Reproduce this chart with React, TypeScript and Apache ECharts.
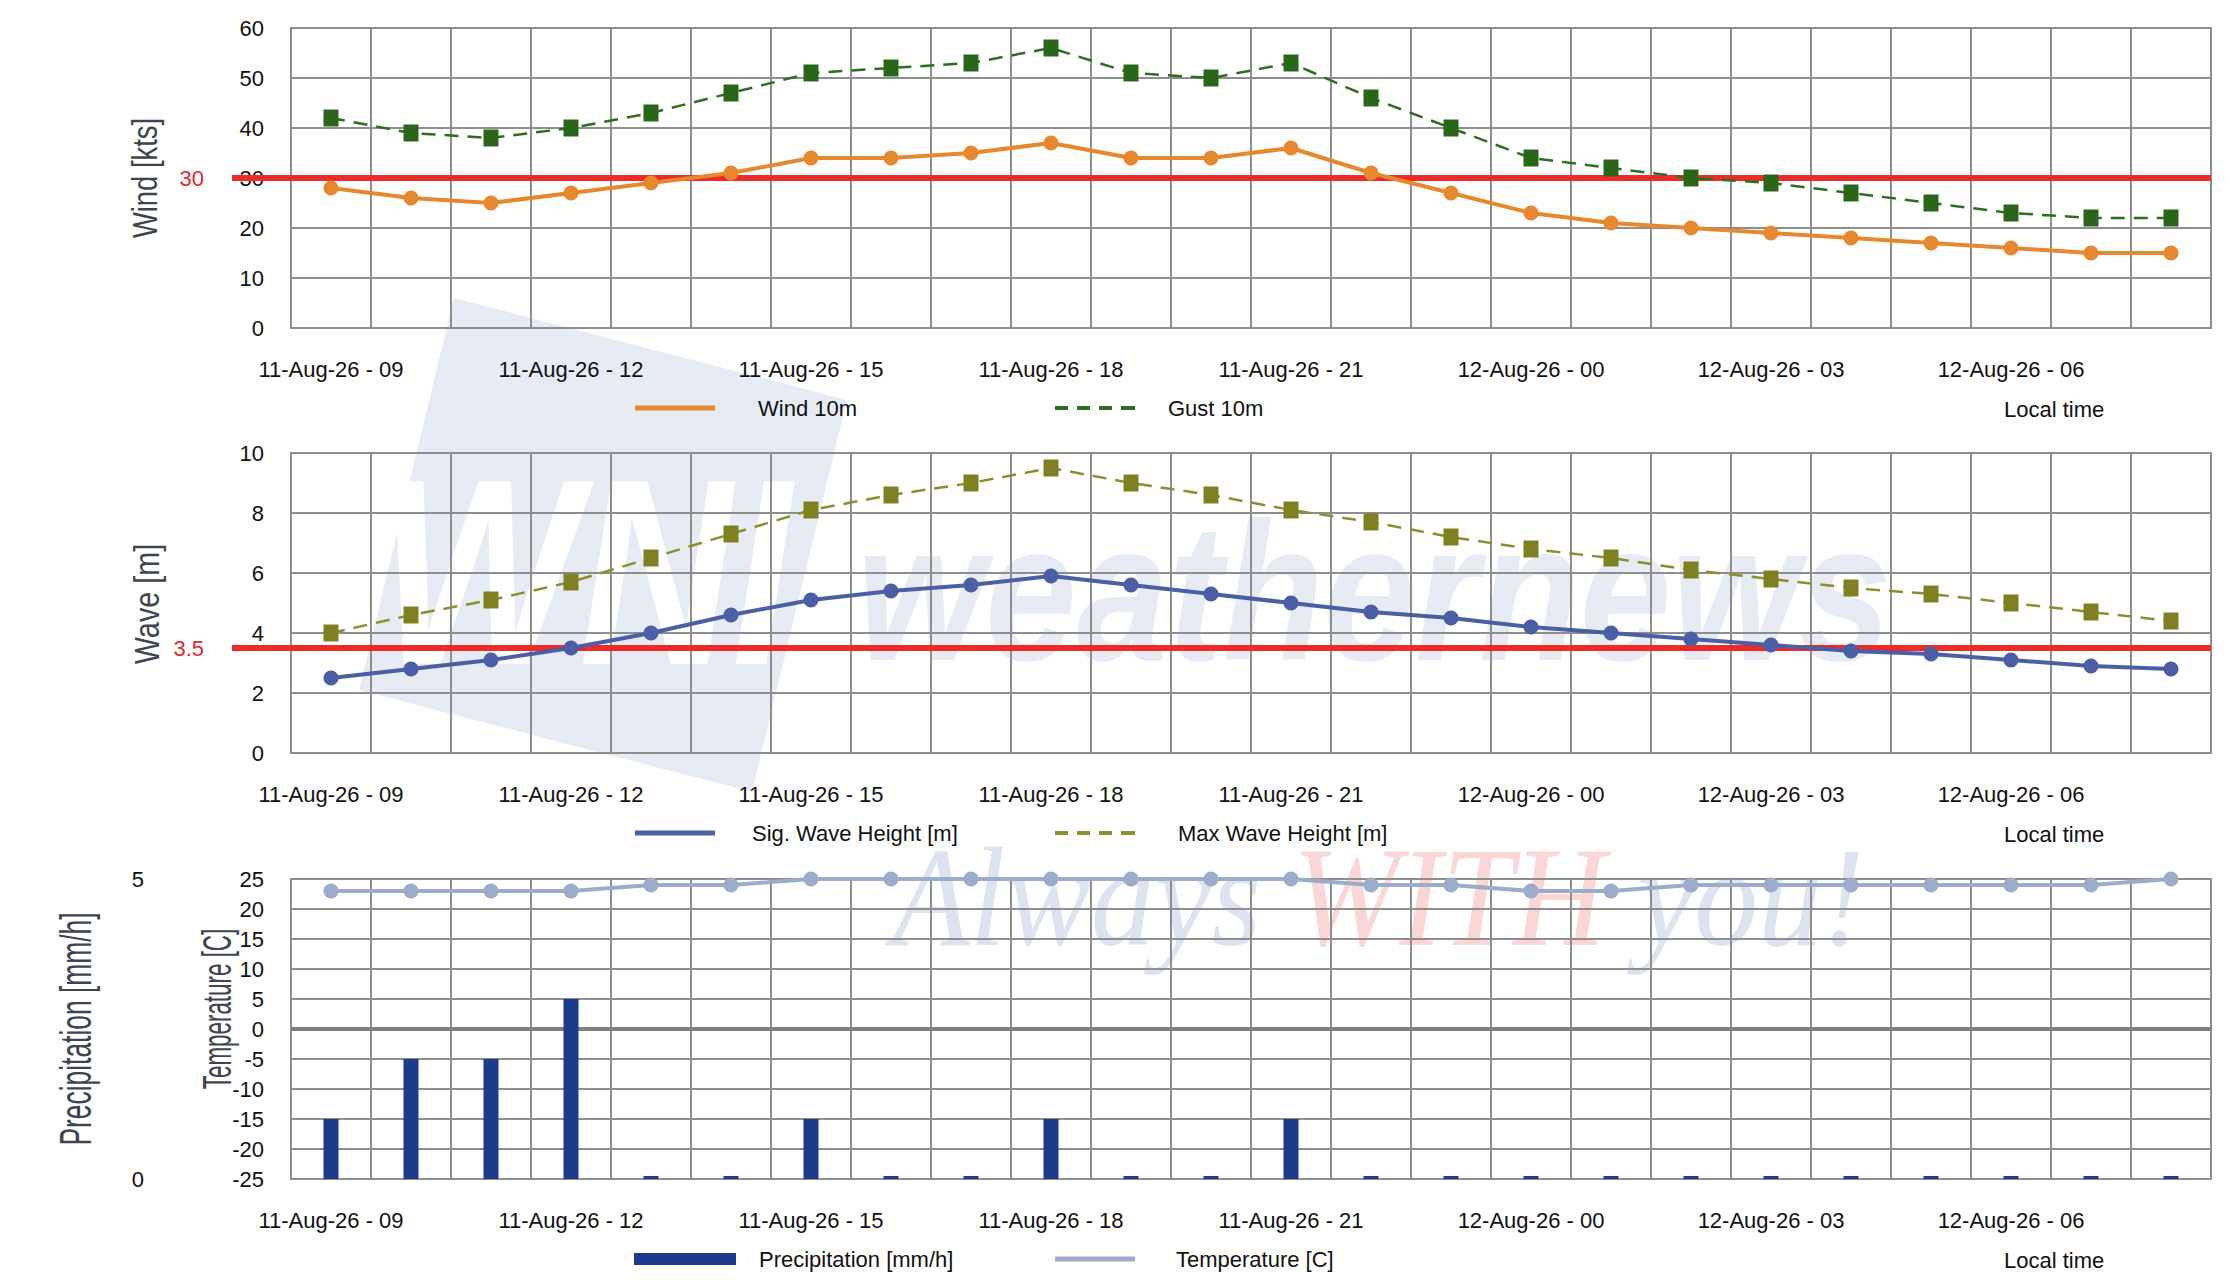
import React, { useEffect, useRef } from "react";
import * as echarts from "echarts";

// ---------- data ----------
const hours = [
  "11-Aug-26 - 09", "11-Aug-26 - 10", "11-Aug-26 - 11", "11-Aug-26 - 12",
  "11-Aug-26 - 13", "11-Aug-26 - 14", "11-Aug-26 - 15", "11-Aug-26 - 16",
  "11-Aug-26 - 17", "11-Aug-26 - 18", "11-Aug-26 - 19", "11-Aug-26 - 20",
  "11-Aug-26 - 21", "11-Aug-26 - 22", "11-Aug-26 - 23", "12-Aug-26 - 00",
  "12-Aug-26 - 01", "12-Aug-26 - 02", "12-Aug-26 - 03", "12-Aug-26 - 04",
  "12-Aug-26 - 05", "12-Aug-26 - 06", "12-Aug-26 - 07", "12-Aug-26 - 08",
];
const wind10m = [28, 26, 25, 27, 29, 31, 34, 34, 35, 37, 34, 34, 36, 31, 27, 23, 21, 20, 19, 18, 17, 16, 15, 15];
const gust10m = [42, 39, 38, 40, 43, 47, 51, 52, 53, 56, 51, 50, 53, 46, 40, 34, 32, 30, 29, 27, 25, 23, 22, 22];
const sigWave = [2.5, 2.8, 3.1, 3.5, 4.0, 4.6, 5.1, 5.4, 5.6, 5.9, 5.6, 5.3, 5.0, 4.7, 4.5, 4.2, 4.0, 3.8, 3.6, 3.4, 3.3, 3.1, 2.9, 2.8];
const maxWave = [4.0, 4.6, 5.1, 5.7, 6.5, 7.3, 8.1, 8.6, 9.0, 9.5, 9.0, 8.6, 8.1, 7.7, 7.2, 6.8, 6.5, 6.1, 5.8, 5.5, 5.3, 5.0, 4.7, 4.4];
const precipitation = [1, 2, 2, 3, 0, 0, 1, 0, 0, 1, 0, 0, 1, 0, 0, 0, 0, 0, 0, 0, 0, 0, 0, 0];
const temperature = [23, 23, 23, 23, 24, 24, 25, 25, 25, 25, 25, 25, 25, 24, 24, 23, 23, 24, 24, 24, 24, 24, 24, 25];
const windLimit = 30;
const waveLimit = 3.5;
const axisNames = ["Wind [kts]", "Wave [m]", "Precipitation [mm/h]", "Temperature [C]"];

// ---------- layout / style ----------
const W = 2229;
const H = 1287;
const GRID_LEFT = 291;
const GRID_W = 1920;
const GRID_RIGHT = GRID_LEFT + GRID_W;
const GRID_H = 300;
const TOPS = [28, 453, 879];
const THRESH_X = 232;
const FONT = "'Liberation Sans', Arial, Helvetica, sans-serif";
const GRID_COLOR = "#8e8e8e";
const TEXT = "#111111";
const NAME_COLOR = "#3f4550";
const RED = "#ee2b26";

const C_WIND = "#e6882e";
const C_GUST = "#2a6619";
const C_SIG = "#4a5fa6";
const C_MAX = "#7f8120";
const C_PREC = "#1d3b8d";
const C_TEMP = "#9cadc9";

const dashPath = "path://M0,0h13v4h-13z M22,0h13v4h-13z M44,0h13v4h-13z M66,0h14v4h-14z";

function thresholdLine(value: number) {
  return {
    silent: true,
    z: 1,
    symbol: ["none", "none"],
    lineStyle: { color: RED, width: 6, type: "solid" },
    label: {
      show: true,
      position: "start",
      formatter: String(value),
      color: "#e8262b",
      fontSize: 22,
      fontFamily: FONT,
      distance: 28,
    },
    data: [[
      { xAxis: 0, yAxis: value, x: THRESH_X },
      { xAxis: hours.length - 1, yAxis: value, x: GRID_RIGHT },
    ]],
  };
}

function legendAt(name: string, left: number, panel: number, icon: string, w: number, h: number, color: string, pad: number) {
  return {
    data: [name],
    left,
    top: TOPS[panel] + GRID_H + 80 - 11,
    icon,
    itemWidth: w,
    itemHeight: h,
    padding: 0,
    selectedMode: false,
    itemStyle: { color, borderWidth: 0 },
    textStyle: { fontSize: 22, color: TEXT, fontFamily: FONT, padding: [0, 0, 0, pad] },
  };
}

function axisName(text: string, x: number, y: number, fontSize: number, scaleX: number) {
  return {
    type: "text",
    silent: true,
    x,
    y,
    rotation: Math.PI / 2,
    scaleX,
    style: {
      text,
      fontSize,
      fontFamily: FONT,
      fill: NAME_COLOR,
      align: "center",
      verticalAlign: "middle",
    },
  };
}

function buildOption(): any {
  const grids = TOPS.map((top) => ({
    left: GRID_LEFT,
    top,
    width: GRID_W,
    height: GRID_H,
    show: true,
    borderColor: GRID_COLOR,
    borderWidth: 2,
    backgroundColor: "transparent",
  }));
  const xAxes = TOPS.map((_, i) => ({
    type: "category",
    gridIndex: i,
    data: hours,
    boundaryGap: true,
    axisLine: { show: false },
    axisTick: { show: false },
    axisLabel: { interval: 2, margin: 30, fontSize: 22, color: TEXT, fontFamily: FONT },
    splitLine: { show: true, interval: 0, lineStyle: { color: GRID_COLOR, width: 2 } },
  }));
  const baseY = {
    type: "value",
    axisLine: { show: false },
    axisTick: { show: false },
    axisLabel: { fontSize: 22, color: TEXT, fontFamily: FONT, margin: 27 },
    splitLine: { show: true, lineStyle: { color: GRID_COLOR, width: 2 } },
  };
  const yAxes = [
    { ...baseY, gridIndex: 0, min: 0, max: 60, interval: 10 },
    { ...baseY, gridIndex: 1, min: 0, max: 10, interval: 2 },
    { ...baseY, gridIndex: 2, min: -25, max: 25, interval: 5 },
    { ...baseY, gridIndex: 2, position: "left", offset: 120, min: 0, max: 5, interval: 5,
      splitLine: { show: false } },
  ];

  const series = [
    {
      name: "Wind 10m", type: "line", xAxisIndex: 0, yAxisIndex: 0, data: wind10m,
      symbol: "circle", symbolSize: 15, z: 3,
      itemStyle: { color: C_WIND, borderWidth: 0 },
      lineStyle: { color: C_WIND, width: 4 },
      markLine: thresholdLine(windLimit),
    },
    {
      name: "Gust 10m", type: "line", xAxisIndex: 0, yAxisIndex: 0, data: gust10m,
      symbol: "rect", symbolSize: [15, 17], z: 3,
      itemStyle: { color: C_GUST, borderWidth: 0 },
      lineStyle: { color: "#2f6e22", width: 2.5, type: [14, 9] },
    },
    {
      name: "Sig. Wave Height [m]", type: "line", xAxisIndex: 1, yAxisIndex: 1, data: sigWave,
      symbol: "circle", symbolSize: 15, z: 3,
      itemStyle: { color: C_SIG, borderWidth: 0 },
      lineStyle: { color: C_SIG, width: 4 },
      markLine: thresholdLine(waveLimit),
    },
    {
      name: "Max Wave Height [m]", type: "line", xAxisIndex: 1, yAxisIndex: 1, data: maxWave,
      symbol: "rect", symbolSize: [15, 17], z: 3,
      itemStyle: { color: C_MAX, borderWidth: 0 },
      lineStyle: { color: "#8d8f2c", width: 2.5, type: [14, 9] },
    },
    {
      name: "Precipitation [mm/h]", type: "bar", xAxisIndex: 2, yAxisIndex: 3, data: precipitation,
      barWidth: 15, barMinHeight: 3, z: 2,
      itemStyle: { color: C_PREC },
    },
    {
      name: "Temperature [C]", type: "line", xAxisIndex: 2, yAxisIndex: 2, data: temperature,
      symbol: "circle", symbolSize: 15, z: 3,
      itemStyle: { color: C_TEMP, borderWidth: 0 },
      lineStyle: { color: C_TEMP, width: 4 },
      markLine: {
        silent: true, z: 1, symbol: ["none", "none"],
        label: { show: false },
        lineStyle: { color: "#7f7f7f", width: 4, type: "solid" },
        data: [{ yAxis: 0 }],
      },
    },
  ];

  const legends = [
    legendAt("Wind 10m", 635, 0, "rect", 80, 5, C_WIND, 38),
    legendAt("Gust 10m", 1055, 0, dashPath, 80, 4, "#2f6e22", 28),
    legendAt("Sig. Wave Height [m]", 635, 1, "rect", 80, 5, C_SIG, 32),
    legendAt("Max Wave Height [m]", 1055, 1, dashPath, 80, 4, "#8d8f2c", 38),
    legendAt("Precipitation [mm/h]", 634, 2, "rect", 102, 12, C_PREC, 18),
    legendAt("Temperature [C]", 1055, 2, "rect", 80, 5, C_TEMP, 36),
  ];

  const localTimes = TOPS.map((top) => ({
    type: "text",
    left: 2004,
    top: top + GRID_H + 81 - 11,
    silent: true,
    style: { text: "Local time", fontSize: 22, fill: TEXT, fontFamily: FONT },
  }));

  const names = [
    axisName(axisNames[0], 145, 178, 36, 0.76),
    axisName(axisNames[1], 146, 604, 36, 0.8),
    axisName(axisNames[2], 76, 1029, 44, 0.6),
    axisName(axisNames[3], 217, 1009, 40, 0.56),
  ];

  const watermark = [
    {
      type: "polygon", silent: true, z: -10,
      shape: { points: [[454, 298], [847, 400], [752, 792], [359, 690]] },
      style: { fill: "#e6ebf4" },
    },
    {
      type: "text", silent: true, z: -9, x: 585, y: 572, scaleX: 0.8,
      style: {
        text: "WNI", fontSize: 265, fontWeight: "bold", fontStyle: "italic",
        fontFamily: FONT, fill: "#ffffff", align: "center", verticalAlign: "middle",
      },
    },
    {
      type: "text", silent: true, z: -9, x: 857, y: 592, scaleX: 0.84,
      style: {
        text: "weathernews", fontSize: 196, fontWeight: "bold", fontStyle: "italic",
        fontFamily: FONT, fill: "#e6ebf4", align: "left", verticalAlign: "middle",
      },
    },
    {
      type: "text", silent: true, z: -9, x: 892, y: 897, scaleX: 0.9,
      style: {
        text: "{a|Always }{w|WITH}{a| you!}",
        align: "left", verticalAlign: "middle",
        rich: {
          a: { fill: "#dde4f0", fontSize: 142, fontStyle: "italic", fontFamily: "'Liberation Serif', 'Times New Roman', serif" },
          w: { fill: "#fad6d6", fontSize: 142, fontStyle: "italic", fontFamily: "'Liberation Serif', 'Times New Roman', serif" },
        },
      },
    },
  ];

  return {
    animation: false,
    backgroundColor: "#ffffff",
    textStyle: { fontFamily: FONT },
    grid: grids,
    xAxis: xAxes,
    yAxis: yAxes,
    legend: legends,
    series,
    graphic: [...watermark, ...names, ...localTimes],
  };
}

export default function App() {
  const ref = useRef<HTMLDivElement>(null);
  useEffect(() => {
    document.body.style.margin = "0";
    if (!ref.current) return;
    const chart = echarts.init(ref.current, undefined, { renderer: "svg" });
    chart.setOption(buildOption());
    return () => chart.dispose();
  }, []);
  return <div ref={ref} style={{ width: W, height: H }} />;
}
